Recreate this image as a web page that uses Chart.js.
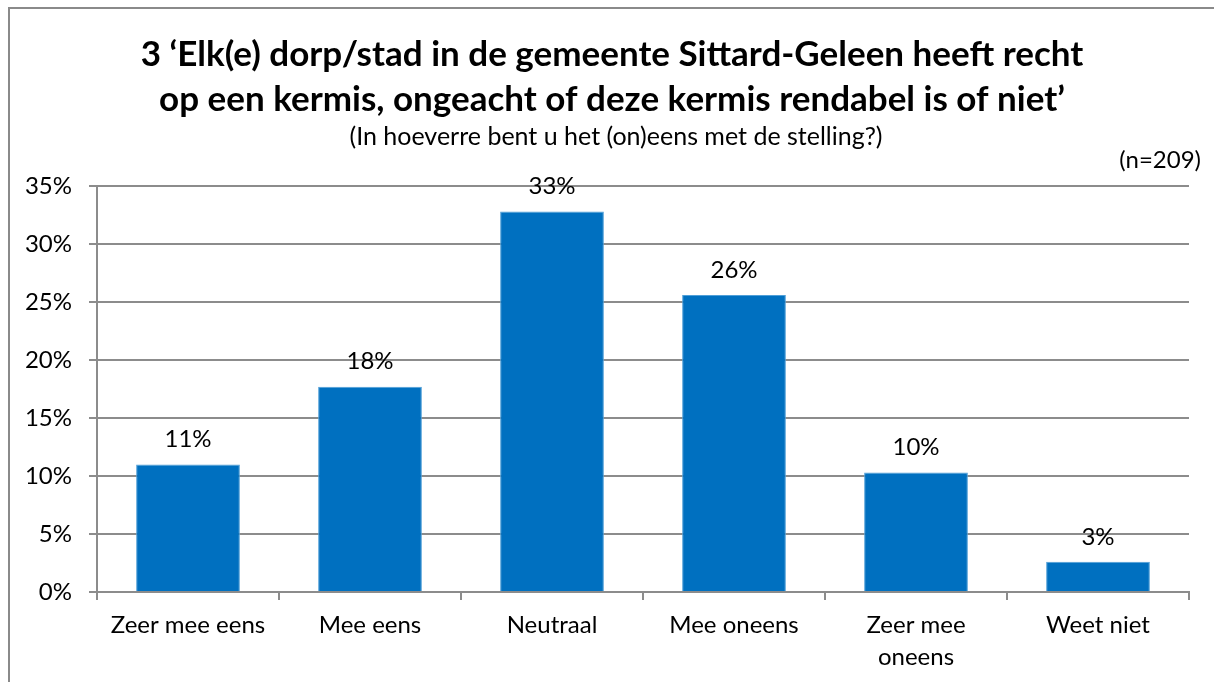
<!DOCTYPE html>
<html>
<head>
<meta charset="utf-8">
<script src="https://cdn.jsdelivr.net/npm/chart.js@4/dist/chart.umd.min.js"></script>
<style>
  html, body { margin: 0; padding: 0; background: #fff; }
  #wrap { width: 1214px; height: 682px; position: relative; }
</style>
</head>
<body>
<div id="wrap"><canvas id="myChart" width="1214" height="682"></canvas></div>
<script>
// chart data
const categories = [
  "Zeer mee eens",
  "Mee eens",
  "Neutraal",
  "Mee oneens",
  ["Zeer mee", "oneens"],
  "Weet niet",
];
const percentages = [11.0, 17.7, 32.8, 25.6, 10.3, 2.6];
const yTicks = [0, 5, 10, 15, 20, 25, 30, 35];

const titleLines = [
  "3 \u2018Elk(e) dorp/stad in de gemeente Sittard-Geleen heeft recht",
  "op een kermis, ongeacht of deze kermis rendabel is of niet\u2019",
];
const subtitleText = "(In hoeverre bent u het (on)eens met de stelling?)";
const sampleText = "(n=209)";

const FONT = "Lato, 'Open Sans', sans-serif";

// frame, titles, sample size, value labels
const extras = {
  id: "extras",
  beforeDraw(chart) {
    const ctx = chart.ctx;
    ctx.save();
    ctx.strokeStyle = "#8a8a8a";
    ctx.lineWidth = 2;
    ctx.strokeRect(9, 8, 1300, 800);

    ctx.fillStyle = "#000";
    ctx.textAlign = "center";
    ctx.textBaseline = "middle";
    ctx.font = "bold 35px " + FONT;
    titleLines.forEach((line, i) => ctx.fillText(line, 612, 55 + i * 45));
    ctx.font = "25px " + FONT;
    ctx.fillText(subtitleText, 616, 137);
    ctx.textAlign = "right";
    ctx.font = "24px " + FONT;
    ctx.fillText(sampleText, 1201, 160);
    ctx.restore();
  },
  afterDatasetsDraw(chart) {
    const ctx = chart.ctx;
    ctx.save();
    ctx.font = "24px " + FONT;
    ctx.fillStyle = "#000";
    ctx.textAlign = "center";
    ctx.textBaseline = "middle";
    chart.getDatasetMeta(0).data.forEach((bar, i) => {
      ctx.fillText(Math.round(percentages[i]) + "%", bar.x, bar.y - 25);
    });
    ctx.restore();
  },
};

var ctx = document.getElementById("myChart").getContext("2d");
var myChart = new Chart(ctx, {
  type: "bar",
  data: {
    labels: categories,
    datasets: [
      {
        data: percentages,
        backgroundColor: "#0070c0",
        borderColor: "#4f9fd8",
        borderWidth: 1,
        barPercentage: 0.57,
        categoryPercentage: 1,
      },
    ],
  },
  options: {
    responsive: false,
    animation: false,
    layout: { padding: { top: 186, right: 25, left: 0, bottom: 0 } },
    plugins: {
      legend: { display: false },
      tooltip: { enabled: false },
      title: { display: false },
    },
    scales: {
      x: {
        afterFit(scale) { scale.height = 90; },
        grid: {
          display: true,
          drawOnChartArea: false,
          drawTicks: true,
          tickLength: 8,
          color: "#8c8c8c",
          lineWidth: 2,
        },
        border: { display: true, color: "#8c8c8c", width: 2 },
        ticks: {
          color: "#000",
          font: { family: FONT, size: 24, lineHeight: 1.333 },
          padding: 9,
          maxRotation: 0,
          autoSkip: false,
        },
      },
      y: {
        min: 0,
        max: 35,
        afterFit(scale) { scale.width = 97; },
        afterBuildTicks(scale) { scale.ticks = yTicks.map((v) => ({ value: v })); },
        grid: { color: "#8c8c8c", lineWidth: 2, tickLength: 8 },
        border: { display: true, color: "#8c8c8c", width: 2 },
        ticks: {
          color: "#000",
          font: { family: FONT, size: 24 },
          padding: 17,
          callback: (v) => v + "%",
        },
      },
    },
  },
  plugins: [extras],
});
</script>
</body>
</html>
